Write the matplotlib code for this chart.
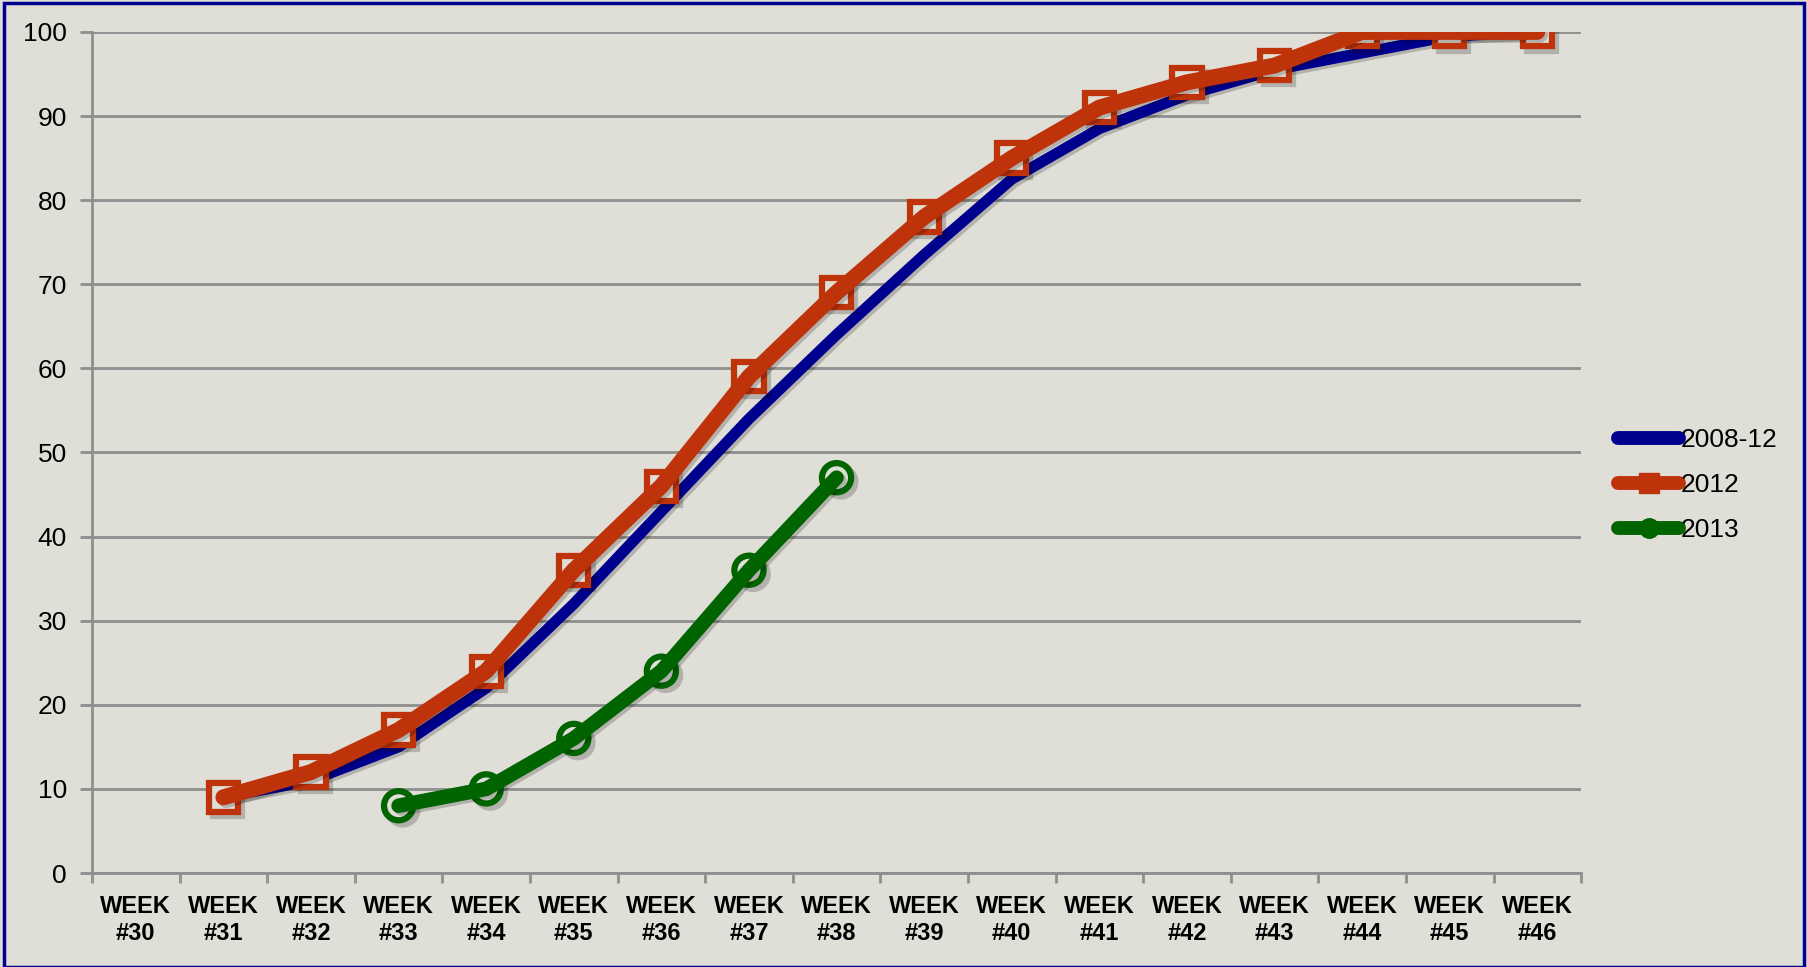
import numpy as np
import matplotlib.pyplot as plt
import matplotlib.patheffects as pe
from matplotlib.patches import Rectangle
from matplotlib.lines import Line2D

# categorias y series
weeks = [f'WEEK\n#{w}' for w in range(30, 47)]
avg_0812 = [None, 9, 11, 15, 22, 32, 43, 54, 64, 73.5, 82.5, 88.5, 92.5, 95.5, 97.5, 99.5, 100]
y2012 = [None, 9, 12, 17, 24, 36, 46, 59, 69, 78, 85, 91, 94, 96, 100, 100, 100]
y2013 = [None, None, None, 8, 10, 16, 24, 36, 47]

bg = '#dfded7'
blue = '#00008f'
red = '#bf330b'
green = '#006400'
grid = '#8e8e8e'

plt.rcParams['font.family'] = ['Liberation Sans', 'DejaVu Sans']

fig = plt.figure(figsize=(18.08, 9.67), dpi=100, facecolor=bg)
ax = fig.add_axes([0.0509, 0.0972, 0.8236, 0.8698])
ax.set_facecolor(bg)

def to_arr(v):
    return np.array([np.nan if x is None else x for x in v], dtype=float)

x = np.arange(len(weeks))
shadow = [pe.SimpleLineShadow(offset=(2, -2), alpha=0.2), pe.Normal()]
mshadow = [pe.SimpleLineShadow(offset=(3, -3), alpha=0.2), pe.Normal()]
lkw = dict(solid_capstyle='round', solid_joinstyle='round', path_effects=shadow)

r = to_arr(y2012)
g = to_arr(y2013)
xg = np.arange(len(g))

ax.plot(x, to_arr(avg_0812), color=blue, lw=8, zorder=3, **lkw)
# marcadores debajo de la linea, como en Excel
ax.plot(x, r, ls='none', marker='s', ms=21, mfc=bg, mec=red, mew=4.5,
        path_effects=mshadow, zorder=4)
ax.plot(x, r, color=red, lw=11.5, zorder=5, **lkw)
ax.plot(xg, g, ls='none', marker='o', ms=21, mfc=bg, mec=green, mew=4.5,
        path_effects=mshadow, zorder=6)
ax.plot(xg, g, color=green, lw=10.5, zorder=7, **lkw)

ax.set_xlim(-0.5, len(weeks) - 0.5)
ax.set_ylim(0, 100)
ax.set_yticks(range(0, 101, 10))
ax.set_xticks(x)
ax.set_xticklabels(weeks, fontsize=17, fontweight='bold', linespacing=1.2)
ax.set_xticks(np.arange(-0.5, len(weeks)), minor=True)
ax.tick_params(axis='x', which='major', length=0, pad=16)
ax.tick_params(axis='x', which='minor', length=7, width=2, color=grid)
ax.tick_params(axis='y', length=9, width=2, color=grid, labelsize=19, pad=9)

ax.grid(axis='y', color=grid, lw=2)
ax.set_axisbelow(True)
for s in ['top', 'right']:
    ax.spines[s].set_visible(False)
for s in ['left', 'bottom']:
    ax.spines[s].set_color(grid)
    ax.spines[s].set_linewidth(2)

handles = [
    Line2D([], [], color=blue, lw=10, solid_capstyle='round'),
    Line2D([], [], color=red, lw=10, solid_capstyle='round', marker='s', ms=14, mfc=red, mec=red),
    Line2D([], [], color=green, lw=10, solid_capstyle='round', marker='o', ms=14, mfc=green, mec=green),
]
ax.legend(handles, ['2008-12', '2012', '2013'], loc='center left',
          bbox_to_anchor=(1.025, 0.461), frameon=False, fontsize=19,
          handlelength=2.3, handletextpad=0.05, labelspacing=0.8,
          borderpad=0, borderaxespad=0)

fig.patches.append(Rectangle((0.002, 0.0), 0.996, 0.997, transform=fig.transFigure,
                             fill=False, edgecolor='#00008f', lw=2.5))

fig.savefig('out.png', dpi=100, facecolor=bg)
